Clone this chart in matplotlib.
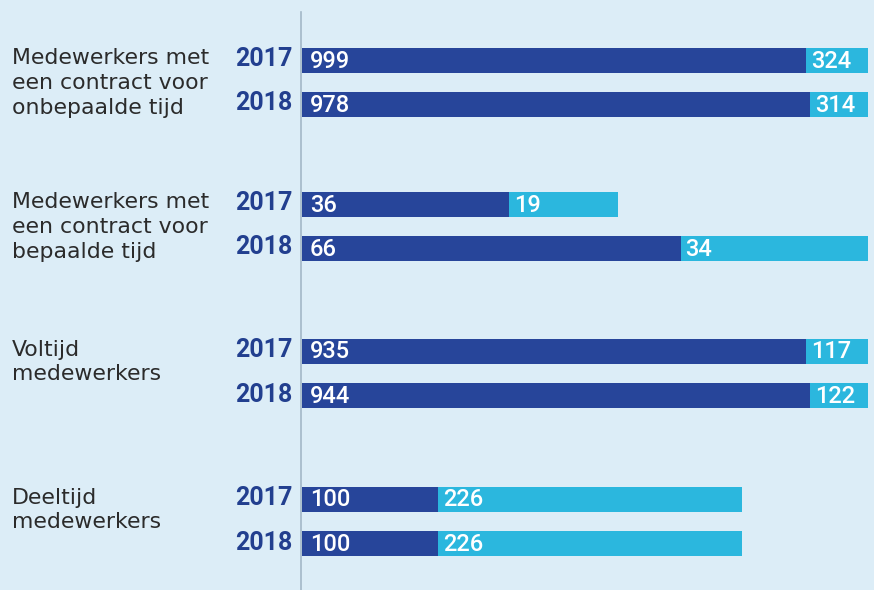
import matplotlib.pyplot as plt
import numpy as np

# categories and years
categories = ["Medewerkers met\neen contract voor\nonbepaalde tijd",
              "Medewerkers met\neen contract voor\nbepaalde tijd",
              "Voltijd\nmedewerkers",
              "Deeltijd\nmedewerkers"]
years = ["2017", "2018"]

# numbers printed on the bars (per category: 2017, 2018)
dark_labels = [[999, 978], [36, 66], [935, 944], [100, 100]]
light_labels = [[324, 314], [19, 34], [117, 122], [226, 226]]

# drawn bar lengths (% of full width) - the chart is not to scale
dark_len = [[88.9, 89.6], [36.5, 66.8], [88.9, 89.6], [24.0, 24.0]]
light_len = [[11.1, 10.4], [19.2, 33.2], [11.1, 10.4], [53.6, 53.6]]

bg = "#dcedf7"
dark = "#27459a"
light = "#2bb7de"
year_col = "#223f8f"
text_col = "#2b2b2b"

W, H = 874, 590
fig = plt.figure(figsize=(W / 100, H / 100), dpi=100, facecolor=bg)
ax = fig.add_axes([301 / W, 0, 567 / W, 1])
ax.set_facecolor(bg)
ax.set_xlim(0, 100)
ax.set_ylim(H, 0)
ax.axis("off")

bar_h = 25
group_y = [60, 204, 351, 499]
year_gap = 44.5
px = 100 / 567  # data units per pixel on x

ax.plot([0, 0], [12, H], color="#a3b8c8", lw=1.2, clip_on=False)

for g, cat in enumerate(categories):
    ys = [group_y[g] + j * year_gap for j in range(2)]
    d = np.array(dark_len[g])
    l = np.array(light_len[g])
    ax.barh(ys, d, height=bar_h, color=dark, left=0.15)
    ax.barh(ys, l, height=bar_h, color=light, left=d + 0.15)
    for j, y in enumerate(ys):
        ax.text(0.15 + 8 * px, y + 1, str(dark_labels[g][j]), color="white",
                fontsize=17, family="Roboto", fontweight="medium",
                va="center", ha="left")
        ax.text(d[j] + 0.15 + 5 * px, y + 1, str(light_labels[g][j]), color="white",
                fontsize=17, family="Roboto", fontweight="medium",
                va="center", ha="left")
        ax.text(-9 * px, y - 1, years[j], color=year_col, fontsize=18,
                family="Roboto", fontweight="bold", va="center", ha="right",
                clip_on=False)
    fig.text(12 / W, 1 - (ys[0] - bar_h / 2 + 1) / H, cat, color=text_col,
             fontsize=15.8, family="DejaVu Sans", va="top", ha="left",
             linespacing=1.3)

fig.savefig("out.png", dpi=100, facecolor=bg)
